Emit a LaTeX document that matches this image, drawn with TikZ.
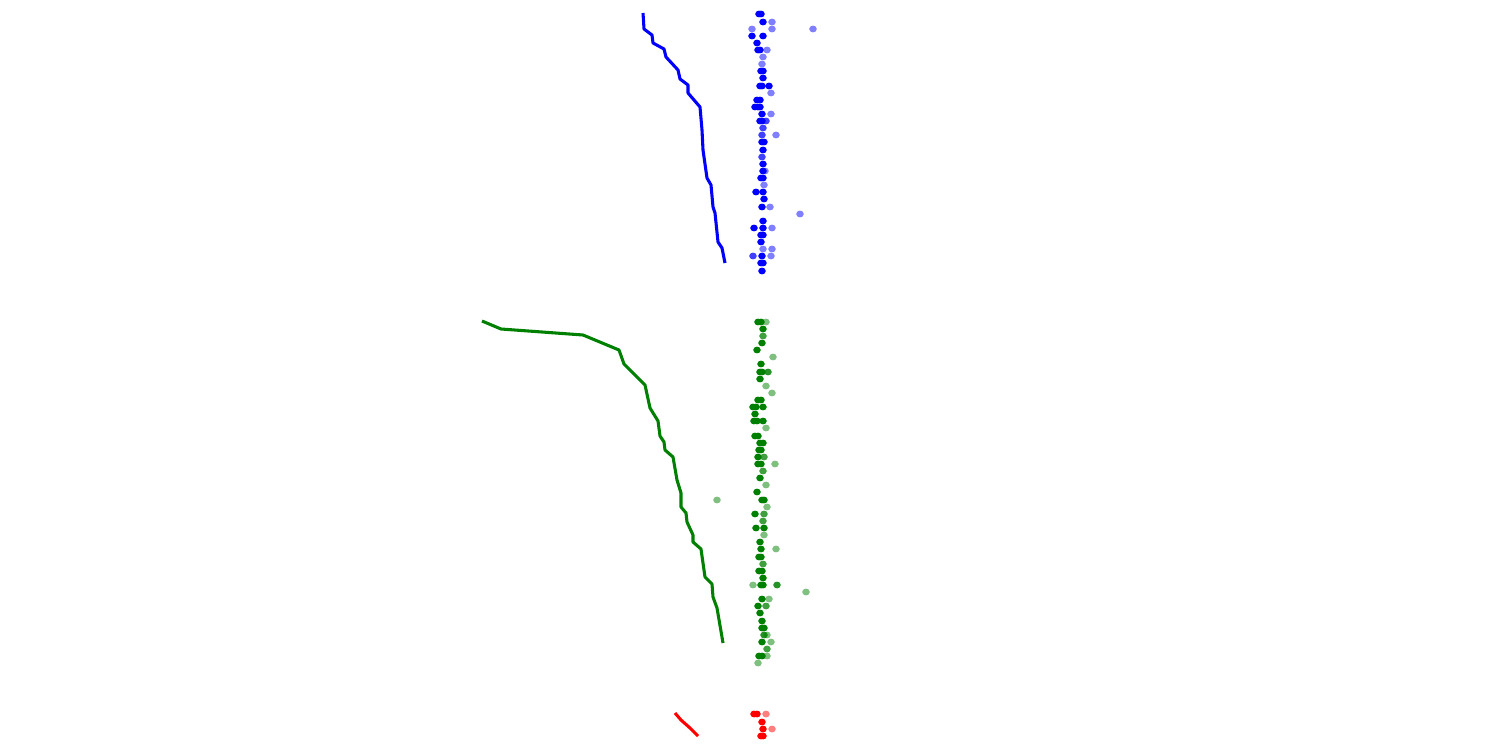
\documentclass[tikz,border=0pt]{standalone}
\usetikzlibrary{calc}
\definecolor{runblue}{RGB}{0,0,255}
\definecolor{rungreen}{RGB}{0,128,0}
\definecolor{runred}{RGB}{255,0,0}
\tikzset{
	trace line/.style={
		line width=1.75pt,
		line join=round,
	},
	hit dot/.style={
		draw=none,
		x radius=2.15pt,
		y radius=1.95pt,
	},
}

\begin{document}
\begin{tikzpicture}[x=0.02cm,y=-0.02cm]
\useasboundingbox (0,0) rectangle (1500,750);

% traces
\draw[trace line,runblue] plot coordinates {
	(643,13) (644,29) (652,35) (653,43) (664,49) (666,57) (678,70)
	(680,79) (688,85) (688,93) (700,107) (702,130) (703,150) (707,178)
	(711,185) (713,207) (715,213) (718,242) (722,248) (725,263)
};
\draw[trace line,rungreen] plot coordinates {
	(482,321) (501,329) (583,335) (619,350) (624,364) (645,385)
	(650,408) (658,421) (660,436) (664,442) (665,450) (673,457)
	(677,480) (681,493) (681,507) (686,513) (687,522) (693,535)
	(693,542) (701,549) (705,577) (712,584) (713,597) (717,608) (723,643)
};
\draw[trace line,runred] plot coordinates {
	(675,713) (681,720) (690,728) (698,736)
};

% hits
\foreach \x/\y/\o in {
	759/14/1, 761/14/1
	,763/22/1, 772/22/.5
	,752/29/.5, 772/29/.5, 813/29/.5
	,752/36/1, 763/36/1
	,757/43/1
	,758/50/1, 760/50/1, 767/50/.5
	,763/57/.5
	,762/64/.5
	,761/71/1, 763/71/1
	,763/78/1
	,760/86/1, 762/86/1, 769/86/1
	,771/93/.5
	,757/100/1, 760/100/1
	,755/107/1, 758/107/1, 760/107/1
	,762/114/1, 771/114/.5
	,760/121/1, 762/121/1, 766/121/.75
	,763/128/.75
	,762/135/.75, 776/135/.5
	,762/142/1, 764/142/1
	,763/150/1
	,762/157/.75
	,763/164/1
	,763/171/1, 765/171/.5
	,761/178/1, 763/178/1
	,764/185/.5
	,756/192/1, 763/192/1
	,764/199/1
	,762/207/1, 770/207/.5
	,800/214/.5
	,763/221/1
	,754/228/1, 763/228/1, 772/228/.5
	,761/235/1, 763/235/1
	,761/242/1
	,763/249/.5, 772/249/.5
	,753/256/.75, 762/256/1, 771/256/.5
	,761/263/1, 763/263/1
	,762/271/1%
}{
	\fill[hit dot,runblue,fill opacity=\o] (\x,\y) ellipse [];
}

\foreach \x/\y/\o in {
	758/322/1, 761/322/1, 766/322/.5
	,763/329/1
	,763/336/.75
	,762/343/1
	,757/350/1
	,773/357/.5
	,761/364/1
	,760/372/1, 762/372/1, 768/372/.85
	,760/379/1
	,766/386/.5
	,772/393/.5
	,758/400/1, 761/400/1
	,753/407/1, 756/407/1, 763/407/1
	,755/414/1
	,754/421/1, 757/421/1, 763/421/1
	,766/428/.5
	,755/436/1, 758/436/1
	,760/443/1, 763/443/1
	,759/450/1, 761/450/1
	,758/457/1, 764/457/.75
	,758/464/1, 761/464/1, 775/464/.5
	,763/471/.75
	,760/478/1
	,766/485/.5
	,757/492/1
	,717/500/.5, 762/500/1, 764/500/1
	,767/507/.5
	,755/514/1, 764/514/.75
	,763/521/.75
	,756/528/1, 764/528/1
	,764/535/.5
	,760/542/1
	,761/549/1, 776/549/.5
	,759/557/1, 761/557/1
	,763/564/.75
	,759/571/1, 762/571/1
	,763/578/1
	,753/585/.5, 761/585/1, 763/585/1, 777/585/.85
	,806/592/.5
	,762/599/1, 769/599/.5
	,758/606/1, 766/606/.75
	,760/613/1
	,762/621/1
	,762/628/1, 764/628/1
	,764/635/.85, 767/635/.5
	,762/642/1, 771/642/.5
	,767/649/.75
	,759/656/1, 762/656/1, 767/656/.5
	,758/663/.5%
}{
	\fill[hit dot,rungreen,fill opacity=\o] (\x,\y) ellipse [];
}

\foreach \x/\y/\o in {
	754/714/1, 757/714/1, 766/714/.5
	,762/722/1
	,763/729/1, 772/729/.5
	,761/736/1, 763/736/1%
}{
	\fill[hit dot,runred,fill opacity=\o] (\x,\y) ellipse [];
}
\end{tikzpicture}
\end{document}
